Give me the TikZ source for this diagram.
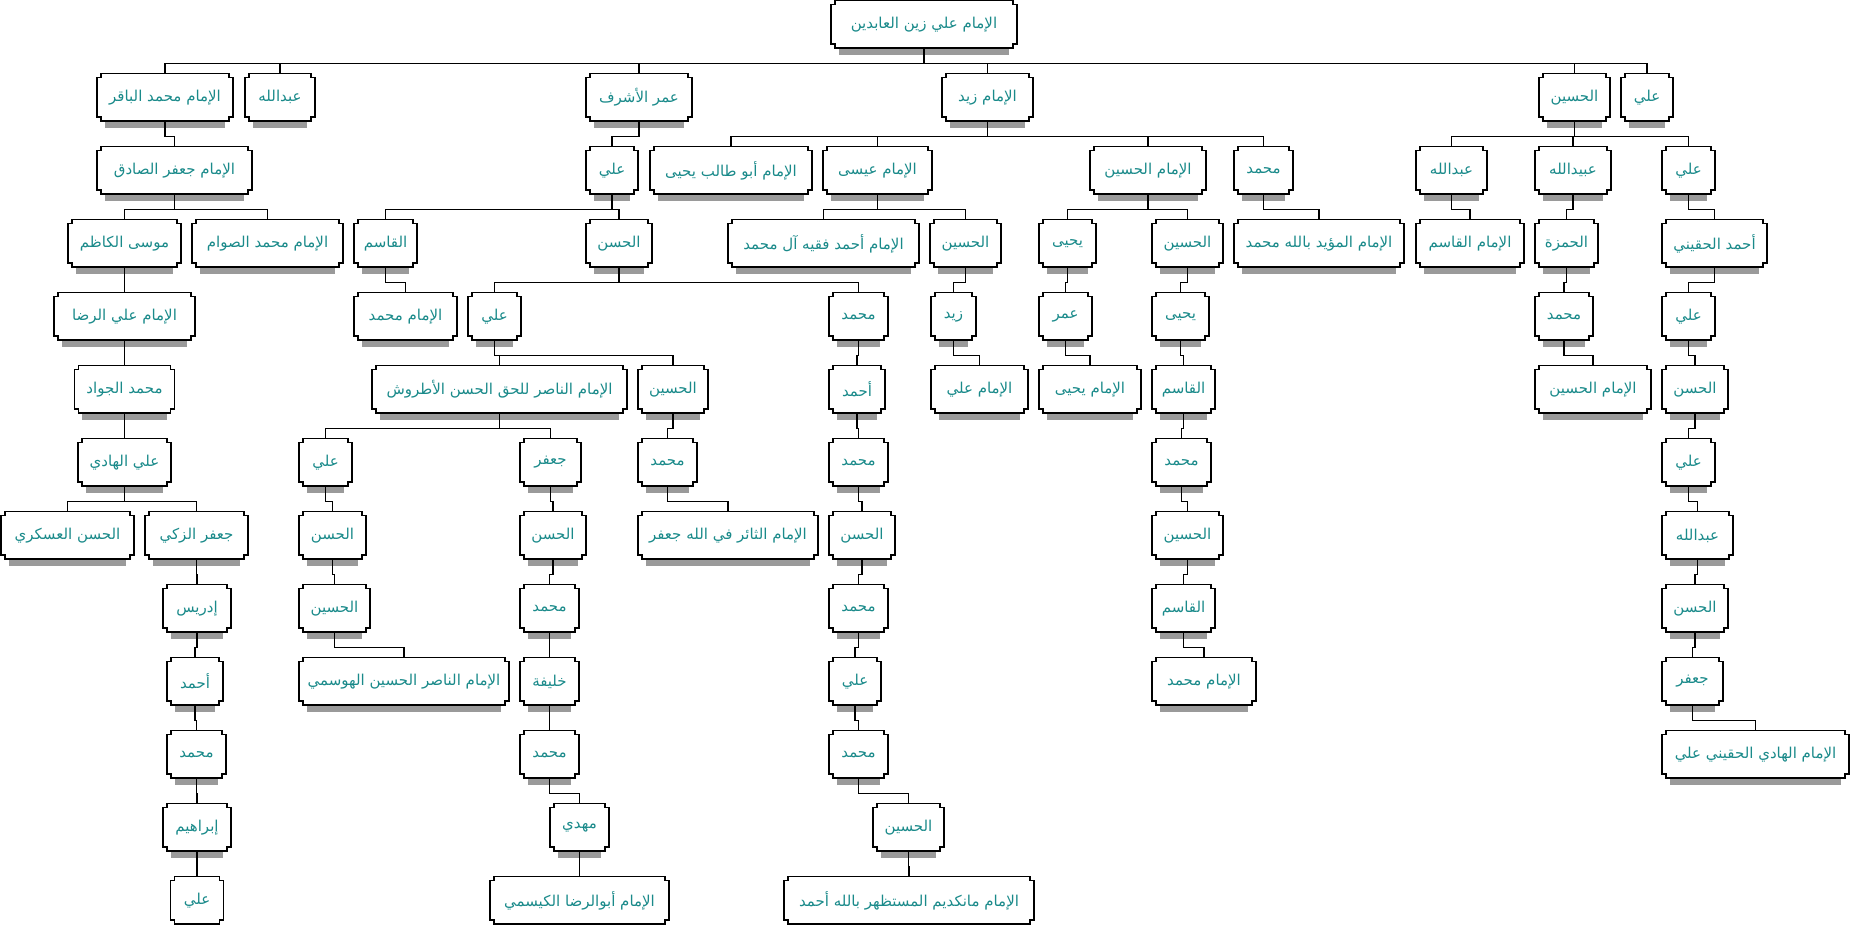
\documentclass[tikz,border=0pt]{standalone}
\usepackage{fontspec}
\usetikzlibrary{calc,positioning}
\TeXXeTstate=1
\newfontfamily\arabicfont[Script=Arabic]{DejaVu Sans}
\newcommand{\arname}[1]{\arabicfont\beginR#1\endR}
\definecolor{tealname}{HTML}{1A8A8A}
\definecolor{shadowgray}{HTML}{9A9A9A}

\begin{document}
\begin{tikzpicture}[
  node distance=25.6pt,
  fam/.style={minimum height=47pt,inner xsep=4pt,inner ysep=2pt,text=tealname,
              font=\fontsize{15}{17}\selectfont},
  famframe/.style={line width=1.5pt,black},
  famlink/.style={line width=1.1pt,black}
]
  \useasboundingbox (0,0) rectangle (1851pt,-925pt);

  \node[fam,minimum width=186pt] (root) at (924pt,-24.4pt) {\arname{الإمام علي زين العابدين}};

  \node[fam,minimum width=136pt,below=of root,xshift=-759pt] (baqir) {\arname{الإمام محمد الباقر}};
  \node[fam,minimum width=70pt,below=of root,xshift=-644pt] (abdA) {\arname{عبدالله}};
  \node[fam,minimum width=106pt,below=of root,xshift=-285pt] (omar) {\arname{عمر الأشرف}};
  \node[fam,minimum width=91pt,below=of root,xshift=63.5pt] (zaid) {\arname{الإمام زيد}};
  \node[fam,minimum width=71pt,below=of root,xshift=650.5pt] (husA) {\arname{الحسين}};
  \node[fam,minimum width=52pt,below=of root,xshift=723pt] (aliA) {\arname{علي}};

  \node[fam,minimum width=155pt,below=of baqir,xshift=9.5pt] (sadiq) {\arname{الإمام جعفر الصادق}};
  \node[fam,minimum width=52pt,below=of omar,xshift=-27pt] (aliB) {\arname{علي}};
  \node[fam,minimum width=162pt,below=of zaid,xshift=-256.5pt] (abutalib) {\arname{الإمام أبو طالب يحيى}};
  \node[fam,minimum width=109pt,below=of zaid,xshift=-110pt] (isa) {\arname{الإمام عيسى}};
  \node[fam,minimum width=116pt,below=of zaid,xshift=160.5pt] (imhus) {\arname{الإمام الحسين}};
  \node[fam,minimum width=59pt,below=of zaid,xshift=276pt] (muhA) {\arname{محمد}};
  \node[fam,minimum width=71pt,below=of husA,xshift=-123pt] (abdB) {\arname{عبدالله}};
  \node[fam,minimum width=76pt,below=of husA,xshift=-1.5pt] (ubayd) {\arname{عبيدالله}};
  \node[fam,minimum width=53pt,below=of husA,xshift=114pt] (aliC) {\arname{علي}};

  \node[fam,minimum width=113pt,below=of sadiq,xshift=-50pt] (kazim) {\arname{موسى الكاظم}};
  \node[fam,minimum width=151pt,below=of sadiq,xshift=93pt] (sawwam) {\arname{الإمام محمد الصوام}};
  \node[fam,minimum width=63pt,below=of aliB,xshift=-226.5pt] (qasA) {\arname{القاسم}};
  \node[fam,minimum width=66pt,below=of aliB,xshift=7pt] (hasA) {\arname{الحسن}};
  \node[fam,minimum width=191pt,below=of isa,xshift=-54pt] (ahfaqih) {\arname{الإمام أحمد فقيه آل محمد}};
  \node[fam,minimum width=71pt,below=of isa,xshift=88pt] (husB) {\arname{الحسين}};
  \node[fam,minimum width=57pt,below=of imhus,xshift=-80.5pt] (yahA) {\arname{يحيى}};
  \node[fam,minimum width=71pt,below=of imhus,xshift=39.5pt] (husC) {\arname{الحسين}};
  \node[fam,minimum width=170pt,below=of muhA,xshift=55.5pt] (muayyad) {\arname{الإمام المؤيد بالله محمد}};
  \node[fam,minimum width=108pt,below=of abdB,xshift=18.5pt] (imqasim) {\arname{الإمام القاسم}};
  \node[fam,minimum width=63pt,below=of ubayd,xshift=-6.5pt] (hamza) {\arname{الحمزة}};
  \node[fam,minimum width=105pt,below=of aliC,xshift=26pt] (haqini) {\arname{أحمد الحقيني}};

  \node[fam,minimum width=141pt,below=of kazim] (rida) {\arname{الإمام علي الرضا}};
  \node[fam,minimum width=103pt,below=of qasA,xshift=20pt] (immuhA) {\arname{الإمام محمد}};
  \node[fam,minimum width=53pt,below=of hasA,xshift=-124.5pt] (aliD) {\arname{علي}};
  \node[fam,minimum width=59pt,below=of hasA,xshift=239.5pt] (muhB) {\arname{محمد}};
  \node[fam,minimum width=45pt,below=of husB,xshift=-12pt] (zaydB) {\arname{زيد}};
  \node[fam,minimum width=53pt,below=of yahA,xshift=-2pt] (umarB) {\arname{عمر}};
  \node[fam,minimum width=57pt,below=of husC,xshift=-7pt] (yahB) {\arname{يحيى}};
  \node[fam,minimum width=58pt,below=of hamza,xshift=-2.5pt] (muhC) {\arname{محمد}};
  \node[fam,minimum width=53pt,below=of haqini,xshift=-26pt] (aliE) {\arname{علي}};

  \node[fam,minimum width=100pt,below=of rida] (jawad) {\arname{محمد الجواد}};
  \node[fam,minimum width=255pt,below=of aliD,xshift=5pt] (nasir) {\arname{الإمام الناصر للحق الحسن الأطروش}};
  \node[fam,minimum width=70pt,below=of aliD,xshift=178.5pt] (husD) {\arname{الحسين}};
  \node[fam,minimum width=56pt,below=of muhB,xshift=-1.5pt] (ahmA) {\arname{أحمد}};
  \node[fam,minimum width=97pt,below=of zaydB,xshift=26pt] (imali) {\arname{الإمام علي}};
  \node[fam,minimum width=102pt,below=of umarB,xshift=24.5pt] (imyah) {\arname{الإمام يحيى}};
  \node[fam,minimum width=63pt,below=of yahB,xshift=3pt] (qasB) {\arname{القاسم}};
  \node[fam,minimum width=116pt,below=of muhC,xshift=29pt] (imhusB) {\arname{الإمام الحسين}};
  \node[fam,minimum width=66pt,below=of aliE,xshift=6.5pt] (hasB) {\arname{الحسن}};

  \node[fam,minimum width=93pt,below=of jawad] (hadi) {\arname{علي الهادي}};
  \node[fam,minimum width=53pt,below=of nasir,xshift=-174pt] (aliF) {\arname{علي}};
  \node[fam,minimum width=61pt,below=of nasir,xshift=51pt] (jafA) {\arname{جعفر}};
  \node[fam,minimum width=59pt,below=of husD,xshift=-5.5pt] (muhD) {\arname{محمد}};
  \node[fam,minimum width=59pt,below=of ahmA,xshift=1.5pt] (muhE) {\arname{محمد}};
  \node[fam,minimum width=59pt,below=of qasB,xshift=-2pt] (muhF) {\arname{محمد}};
  \node[fam,minimum width=53pt,below=of hasB,xshift=-6.5pt] (aliG) {\arname{علي}};

  \node[fam,minimum width=133pt,below=of hadi,xshift=-57pt] (askari) {\arname{الحسن العسكري}};
  \node[fam,minimum width=103pt,below=of hadi,xshift=72pt] (zaki) {\arname{جعفر الزكي}};
  \node[fam,minimum width=67pt,below=of aliF,xshift=7pt] (hasC) {\arname{الحسن}};
  \node[fam,minimum width=66pt,below=of jafA,xshift=2.5pt] (hasD) {\arname{الحسن}};
  \node[fam,minimum width=180pt,below=of muhD,xshift=60.5pt] (thair) {\arname{الإمام الثائر في الله جعفر}};
  \node[fam,minimum width=66pt,below=of muhE,xshift=3.5pt] (hasE) {\arname{الحسن}};
  \node[fam,minimum width=71pt,below=of muhF,xshift=6pt] (husE) {\arname{الحسين}};
  \node[fam,minimum width=71pt,below=of aliG,xshift=9pt] (abdC) {\arname{عبدالله}};

  \node[fam,minimum width=68pt,below=of zaki,xshift=0.5pt] (idris) {\arname{إدريس}};
  \node[fam,minimum width=71pt,below=of hasC,xshift=2pt] (husF) {\arname{الحسين}};
  \node[fam,minimum width=59pt,below=of hasD,xshift=-3.5pt] (muhG) {\arname{محمد}};
  \node[fam,minimum width=59pt,below=of hasE,xshift=-3.5pt] (muhH) {\arname{محمد}};
  \node[fam,minimum width=63pt,below=of husE,xshift=-4pt] (qasC) {\arname{القاسم}};
  \node[fam,minimum width=66pt,below=of abdC,xshift=-2.5pt] (hasF) {\arname{الحسن}};

  \node[fam,minimum width=56pt,below=of idris,xshift=-2pt] (ahmB) {\arname{أحمد}};
  \node[fam,minimum width=210pt,below=of husF,xshift=69.5pt] (hawsami) {\arname{الإمام الناصر الحسين الهوسمي}};
  \node[fam,minimum width=59pt,below=of muhG] (khalifa) {\arname{خليفة}};
  \node[fam,minimum width=52pt,below=of muhH,xshift=-3.5pt] (aliH) {\arname{علي}};
  \node[fam,minimum width=104pt,below=of qasC,xshift=20.5pt] (immuhB) {\arname{الإمام محمد}};
  \node[fam,minimum width=61pt,below=of hasF,xshift=-2.5pt] (jafB) {\arname{جعفر}};

  \node[fam,minimum width=59pt,below=of ahmB,xshift=1.5pt] (muhI) {\arname{محمد}};
  \node[fam,minimum width=59pt,below=of khalifa] (muhJ) {\arname{محمد}};
  \node[fam,minimum width=59pt,below=of aliH,xshift=3.5pt] (muhK) {\arname{محمد}};
  \node[fam,minimum width=187pt,below=of jafB,xshift=63pt] (hadiB) {\arname{الإمام الهادي الحقيني علي}};

  \node[fam,minimum width=68pt,below=of muhI,xshift=0.5pt] (ibrahim) {\arname{إبراهيم}};
  \node[fam,minimum width=59pt,below=of muhJ,xshift=30pt] (mahdi) {\arname{مهدي}};
  \node[fam,minimum width=71pt,below=of muhK,xshift=50pt] (husG) {\arname{الحسين}};

  \node[fam,minimum width=53pt,below=of ibrahim] (aliI) {\arname{علي}};
  \node[fam,minimum width=179pt,below=of mahdi] (kaysami) {\arname{الإمام أبوالرضا الكيسمي}};
  \node[fam,minimum width=250pt,below=of husG,xshift=0.5pt] (mankdim) {\arname{الإمام مانكديم المستظهر بالله أحمد}};

  \foreach \n in {root,baqir,abdA,omar,zaid,husA,aliA,
      sadiq,aliB,abutalib,isa,imhus,muhA,abdB,ubayd,aliC,
      kazim,sawwam,qasA,hasA,ahfaqih,husB,yahA,husC,muayyad,imqasim,hamza,haqini,
      rida,immuhA,aliD,muhB,zaydB,umarB,yahB,muhC,aliE,
      jawad,nasir,husD,ahmA,imali,imyah,qasB,imhusB,hasB,
      hadi,aliF,jafA,muhD,muhE,muhF,aliG,
      askari,zaki,hasC,hasD,thair,hasE,husE,abdC,
      idris,husF,muhG,muhH,qasC,hasF,
      ahmB,hawsami,khalifa,aliH,immuhB,jafB,
      muhI,muhJ,muhK,hadiB,ibrahim,mahdi,husG,aliI,kaysami,mankdim}{
    \fill[shadowgray] ($(\n.south west)+(8pt,0)$) rectangle ($(\n.south east)+(-8pt,-6.5pt)$);
    \draw[famframe] ($(\n.north west)+(4pt,0)$) -- ($(\n.north east)+(-4pt,0)$) -- ++(0,-4pt) -- ++(4pt,0)
      -- ($(\n.south east)+(0,4pt)$) -- ++(-4pt,0) -- ++(0,-4pt) -- ($(\n.south west)+(4pt,0)$)
      -- ++(0,4pt) -- ++(-4pt,0) -- ($(\n.north west)+(0,-4pt)$) -- ++(4pt,0) -- cycle;
  }

  \foreach \p/\c in {root/baqir,root/abdA,root/omar,root/zaid,root/husA,root/aliA,
      baqir/sadiq,omar/aliB,zaid/abutalib,zaid/isa,zaid/imhus,zaid/muhA,husA/abdB,husA/ubayd,husA/aliC,
      sadiq/kazim,sadiq/sawwam,aliB/qasA,aliB/hasA,isa/ahfaqih,isa/husB,imhus/yahA,imhus/husC,
      muhA/muayyad,abdB/imqasim,ubayd/hamza,aliC/haqini,
      kazim/rida,qasA/immuhA,hasA/aliD,hasA/muhB,husB/zaydB,yahA/umarB,husC/yahB,hamza/muhC,haqini/aliE,
      rida/jawad,aliD/nasir,aliD/husD,muhB/ahmA,zaydB/imali,umarB/imyah,yahB/qasB,muhC/imhusB,aliE/hasB,
      jawad/hadi,nasir/aliF,nasir/jafA,husD/muhD,ahmA/muhE,qasB/muhF,hasB/aliG,
      hadi/askari,hadi/zaki,aliF/hasC,jafA/hasD,muhD/thair,muhE/hasE,muhF/husE,aliG/abdC,
      zaki/idris,hasC/husF,hasD/muhG,hasE/muhH,husE/qasC,abdC/hasF,
      idris/ahmB,husF/hawsami,muhG/khalifa,muhH/aliH,qasC/immuhB,hasF/jafB,
      ahmB/muhI,khalifa/muhJ,aliH/muhK,jafB/hadiB,
      muhI/ibrahim,muhJ/mahdi,muhK/husG,
      ibrahim/aliI,mahdi/kaysami,husG/mankdim}
    \draw[famlink] (\p.south) -- ++(0,-15pt) -| (\c.north);
\end{tikzpicture}
\end{document}
